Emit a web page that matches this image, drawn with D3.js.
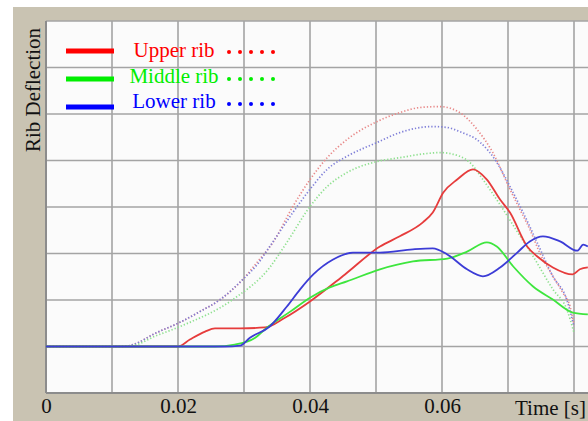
<!DOCTYPE html>
<html>
<head>
<meta charset="utf-8">
<script src="https://cdn.jsdelivr.net/npm/d3@7"></script>
<style>
	html, body { margin: 0; padding: 0; background: #fff; }
	svg { display: block; font-family: "Liberation Serif", "DejaVu Serif", serif; }
</style>
</head>
<body>
<div id="chart"></div>
<script>

const WIDTH = 588;
const HEIGHT = 421;

// legend / series
const seriesNames = ["Upper rib", "Middle rib", "Lower rib"];
const solidColors = ["#e63c3c", "#3ee63e", "#3c3cd6"];
const dottedColors = ["#e88a8a", "#7f7fd8", "#8fe08f"];
const legendColors = ["#ff0000", "#00ee00", "#0000ff"];

// axis
const xTicks = [0, 0.02, 0.04, 0.06];
const xGrid = [0.01, 0.02, 0.03, 0.04, 0.05, 0.06, 0.07, 0.08];
const yGrid = [-1, 0, 1, 2, 3, 4, 5, 6, 7];
const xTitle = "Time [s]";
const yTitle = "Rib Deflection";

// solid curves [time, deflection]
const upperSolid = [[0, 0], [0.02, 0], [0.0218, 0.15], [0.0241, 0.32], [0.0256, 0.39], [0.0294, 0.39], [0.0332, 0.41], [0.0362, 0.62], [0.04, 0.97], [0.0453, 1.55], [0.0506, 2.15], [0.0536, 2.37], [0.0571, 2.67], [0.0586, 2.88], [0.0602, 3.31], [0.0623, 3.59], [0.0647, 3.81], [0.0668, 3.59], [0.0688, 3.16], [0.0703, 2.88], [0.0729, 2.15], [0.0744, 1.94], [0.0768, 1.70], [0.0798, 1.55], [0.0809, 1.66], [0.0821, 1.70]];
const middleSolid = [[0, 0], [0.0256, 0], [0.0286, 0.04], [0.0317, 0.19], [0.0335, 0.41], [0.037, 0.75], [0.04, 1.05], [0.043, 1.27], [0.0456, 1.40], [0.0506, 1.66], [0.0556, 1.83], [0.0608, 1.89], [0.0638, 2.04], [0.0668, 2.24], [0.0683, 2.15], [0.0708, 1.72], [0.0738, 1.29], [0.0768, 1.01], [0.0798, 0.73], [0.0821, 0.69]];
const lowerSolid = [[0, 0], [0.0271, 0], [0.0294, 0.02], [0.0309, 0.19], [0.0339, 0.43], [0.0365, 0.86], [0.0385, 1.23], [0.0405, 1.55], [0.0435, 1.87], [0.0465, 2.02], [0.0506, 2.02], [0.0556, 2.09], [0.0586, 2.11], [0.0608, 1.98], [0.0638, 1.66], [0.0662, 1.51], [0.0688, 1.70], [0.0714, 2.02], [0.0733, 2.26], [0.0753, 2.37], [0.0779, 2.26], [0.0805, 2.06], [0.0814, 2.19], [0.0821, 2.15]];

// dotted curves [time, deflection]
const upperDotted = [[0, 0], [0.0112, 0], [0.0132, 0.04], [0.0165, 0.28], [0.0203, 0.52], [0.0233, 0.75], [0.0264, 1.01], [0.0298, 1.44], [0.0321, 1.83], [0.0344, 2.24], [0.0374, 3.01], [0.04, 3.59], [0.0426, 4.06], [0.0456, 4.45], [0.0502, 4.84], [0.0536, 5.03], [0.0567, 5.14], [0.0597, 5.16], [0.0627, 5.03], [0.0653, 4.67], [0.0677, 4.17], [0.0703, 3.38], [0.0718, 2.95], [0.0733, 2.52], [0.0748, 2.02], [0.0768, 1.51], [0.0783, 1.16], [0.0794, 0.86], [0.08, 0.47]];
const middleDotted = [[0, 0], [0.0115, 0], [0.0132, 0.02], [0.0165, 0.22], [0.0203, 0.43], [0.0283, 1.01], [0.0339, 1.70], [0.0365, 2.24], [0.04, 3.01], [0.0426, 3.44], [0.0456, 3.74], [0.0502, 3.98], [0.0536, 4.06], [0.0577, 4.15], [0.0597, 4.17], [0.0627, 4.09], [0.0642, 3.96], [0.0662, 3.59], [0.0688, 3.05], [0.0714, 2.47], [0.0738, 1.94], [0.0768, 1.23], [0.0789, 0.80], [0.08, 0.30]];
const lowerDotted = [[0, 0], [0.0112, 0], [0.0132, 0.04], [0.0165, 0.28], [0.0203, 0.52], [0.0233, 0.75], [0.0264, 1.01], [0.0298, 1.44], [0.0321, 1.78], [0.0339, 2.15], [0.0374, 2.88], [0.04, 3.38], [0.0426, 3.81], [0.0456, 4.09], [0.0502, 4.39], [0.0536, 4.60], [0.0586, 4.73], [0.0608, 4.71], [0.0627, 4.62], [0.0658, 4.39], [0.0683, 3.96], [0.0703, 3.44], [0.0723, 2.88], [0.0744, 2.24], [0.0768, 1.51], [0.0789, 1.01], [0.08, 0.43]];

const solidSeries = [upperSolid, middleSolid, lowerSolid];
const dottedSeries = [upperDotted, lowerDotted, middleDotted];

const margin = { top: 21, left: 46, bottom: 28 };
const plotWidth = WIDTH - margin.left;
const plotHeight = HEIGHT - margin.top - margin.bottom;

const svg = d3.select("#chart").append("svg")
	.attr("width", WIDTH)
	.attr("height", HEIGHT);

// beige frame
svg.append("rect")
	.attr("x", 13)
	.attr("y", 7)
	.attr("width", WIDTH - 13)
	.attr("height", HEIGHT - 7)
	.attr("fill", "#c9c3b2");

const scaleX = d3.scaleLinear()
	.domain([0, 0.08])
	.range([0, 528]);

const scaleY = d3.scaleLinear()
	.domain([-1, 7])
	.range([plotHeight, 0]);

const g = svg.append("g")
	.attr("transform", `translate(${margin.left},${margin.top})`);

svg.append("clipPath")
	.attr("id", "clip")
	.append("rect")
	.attr("width", plotWidth)
	.attr("height", plotHeight);

g.append("rect")
	.attr("width", plotWidth)
	.attr("height", plotHeight)
	.attr("fill", "#fbfbfb");

// grid
g.selectAll(".vgrid")
	.data(xGrid)
	.enter()
	.append("line")
	.attr("x1", d => scaleX(d))
	.attr("x2", d => scaleX(d))
	.attr("y1", 0)
	.attr("y2", plotHeight)
	.attr("stroke", "#a4a4a4")
	.attr("stroke-width", 1.6);

g.selectAll(".hgrid")
	.data(yGrid)
	.enter()
	.append("line")
	.attr("x1", 0)
	.attr("x2", plotWidth)
	.attr("y1", d => scaleY(d))
	.attr("y2", d => scaleY(d))
	.attr("stroke", d => d == -1 ? "#8c8c8c" : "#a4a4a4")
	.attr("stroke-width", d => d == -1 ? 2 : 1.6);

g.append("line")
	.attr("x1", 0)
	.attr("x2", 0)
	.attr("y1", 0)
	.attr("y2", plotHeight)
	.attr("stroke", "#8c8c8c")
	.attr("stroke-width", 2);

const line = d3.line()
	.x(d => scaleX(d[0]))
	.y(d => scaleY(d[1]))
	.curve(d3.curveMonotoneX);

const curves = g.append("g").attr("clip-path", "url(#clip)");

curves.selectAll(".dotted")
	.data(dottedSeries)
	.enter()
	.append("path")
	.attr("d", line)
	.attr("fill", "none")
	.attr("stroke", (d, i) => dottedColors[i])
	.attr("stroke-width", 1.7)
	.attr("stroke-dasharray", "1.3 2");

curves.selectAll(".solid")
	.data(solidSeries)
	.enter()
	.append("path")
	.attr("d", line)
	.attr("fill", "none")
	.attr("stroke", (d, i) => solidColors[i])
	.attr("stroke-width", 1.8);

// x axis labels
const axisX = d3.axisBottom(scaleX)
	.tickValues(xTicks)
	.tickSize(0)
	.tickPadding(5)
	.tickFormat(d => d == 0 ? "0" : d3.format(".2f")(d));

const gAxisX = g.append("g")
	.attr("transform", `translate(0,${plotHeight})`)
	.call(axisX);

gAxisX.select(".domain").remove();
gAxisX.selectAll("text")
	.attr("font-family", "Liberation Serif, serif")
	.attr("font-size", 21)
	.attr("fill", "#111");

svg.append("text")
	.attr("x", 586)
	.attr("y", 415)
	.attr("text-anchor", "end")
	.attr("font-size", 21)
	.attr("fill", "#111")
	.text(xTitle);

svg.append("text")
	.attr("transform", "translate(40,90) rotate(-90)")
	.attr("text-anchor", "middle")
	.attr("font-size", 21)
	.attr("fill", "#111")
	.text(yTitle);

// legend
const legendY = [51, 79, 107];
const legendTextY = [57, 83, 108];
const legendTextX = [174, 174, 174];
const legendDotY = [52, 79, 104];

const legend = svg.append("g");

seriesNames.forEach((name, i) => {
	legend.append("line")
		.attr("x1", 66)
		.attr("x2", 114)
		.attr("y1", legendY[i])
		.attr("y2", legendY[i])
		.attr("stroke", legendColors[i])
		.attr("stroke-width", 5);
	legend.append("text")
		.attr("x", legendTextX[i])
		.attr("y", legendTextY[i])
		.attr("text-anchor", "middle")
		.attr("font-size", 21)
		.attr("fill", legendColors[i])
		.text(name);
	legend.selectAll(".dot" + i)
		.data(d3.range(5))
		.enter()
		.append("circle")
		.attr("cx", d => 229 + d * 11)
		.attr("cy", legendDotY[i])
		.attr("r", 2)
		.attr("fill", legendColors[i]);
});

</script>
</body>
</html>
